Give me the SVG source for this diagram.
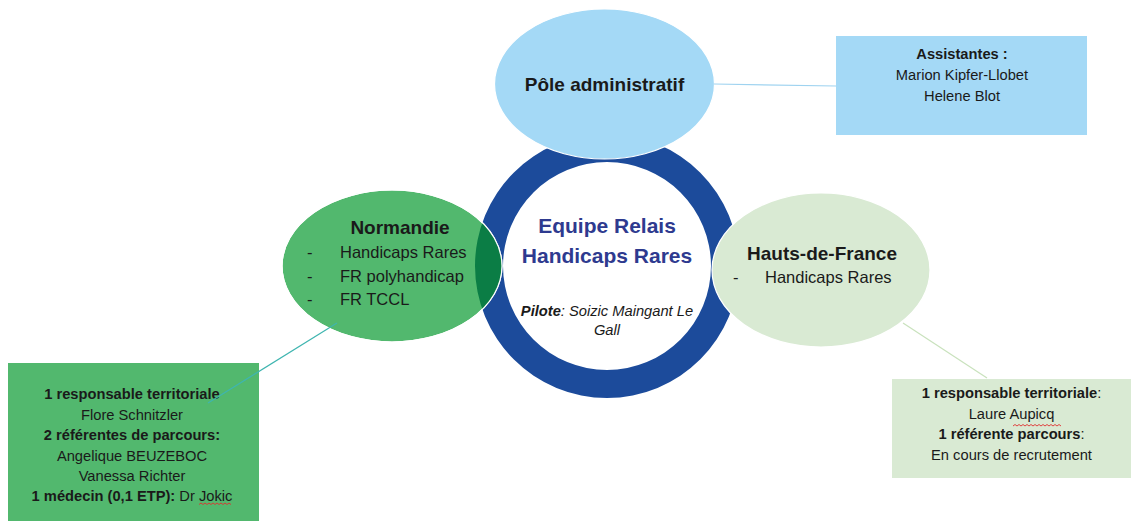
<svg xmlns="http://www.w3.org/2000/svg" width="1135" height="521" viewBox="0 0 1135 521">
<style>
text{font-family:"Liberation Sans",Arial,sans-serif;fill:#1a1a1a}
.b{font-weight:bold}
.t19{font-size:19px;font-weight:bold}
.l{font-size:16.5px}
.s{font-size:14.7px}
.m{text-anchor:middle}
.el{stroke:#ffffff;stroke-width:1.2}
.sq{fill:none;stroke:#e03030;stroke-width:0.9}
</style>
<defs>
<clipPath id="normClip"><ellipse cx="392" cy="266" rx="110" ry="76"/></clipPath>
<path id="ringPath" d="M 475 266 a 132 132 0 1 0 264 0 a 132 132 0 1 0 -264 0 Z M 503 266 a 104 104 0 1 0 208 0 a 104 104 0 1 0 -208 0 Z" fill-rule="evenodd"/>
</defs>
<rect width="1135" height="521" fill="#ffffff"/>

<g id="center">
<use href="#ringPath" fill="#1c4b9b"/>
<text class="m b" x="607" y="233" font-size="21" style="fill:#2e3a8f">Equipe Relais</text>
<text class="m b" x="607" y="263" font-size="21" style="fill:#2e3a8f">Handicaps Rares</text>
<text class="m s" x="607" y="316" font-style="italic"><tspan font-weight="bold">Pilote</tspan>: Soizic Maingant Le</text>
<text class="m s" x="607" y="335" font-style="italic">Gall</text>
</g>

<g id="pole">
<ellipse class="el" cx="604.5" cy="84" rx="110" ry="75" fill="#a4d9f6"/>
<text class="m t19" x="604.5" y="91">Pôle administratif</text>
</g>

<g id="normandie">
<ellipse class="el" cx="392" cy="266" rx="110" ry="76" fill="#52b86e"/>
<use href="#ringPath" fill="#0b7d45" clip-path="url(#normClip)"/>
<ellipse cx="392" cy="266" rx="110" ry="76" fill="none" stroke="#ffffff" stroke-width="1.2"/>
<text class="m t19" x="400" y="234">Normandie</text>
<text class="l" x="307" y="258">-</text>
<text class="l" x="340" y="258">Handicaps Rares</text>
<text class="l" x="307" y="282">-</text>
<text class="l" x="340" y="282">FR polyhandicap</text>
<text class="l" x="307" y="305">-</text>
<text class="l" x="340" y="305">FR TCCL</text>
</g>

<g id="hdf">
<ellipse class="el" cx="821" cy="270" rx="109" ry="77" fill="#d9ead3"/>
<text class="m t19" x="822" y="260">Hauts-de-France</text>
<text class="l" x="733" y="283">-</text>
<text class="l" x="765" y="283">Handicaps Rares</text>
</g>

<g id="assistantes">
<rect x="836" y="36" width="251" height="99" fill="#a4d9f6"/>
<text class="m s b" x="962" y="59">Assistantes :</text>
<text class="m s" x="962" y="80">Marion Kipfer-Llobet</text>
<text class="m s" x="962" y="101">Helene Blot</text>
</g>

<g id="normandie-team">
<rect x="8" y="363" width="251" height="158" fill="#52b86e"/>
<text class="m s b" x="132" y="399">1 responsable territoriale</text>
<text class="m s" x="132" y="419.5">Flore Schnitzler</text>
<text class="m s b" x="132" y="440">2 référentes de parcours:</text>
<text class="m s" x="132" y="460.5">Angelique BEUZEBOC</text>
<text class="m s" x="132" y="481">Vanessa Richter</text>
<text class="m s" x="132" y="501"><tspan font-weight="bold">1 médecin (0,1 ETP):</tspan> Dr Jokic</text>
<path class="sq" d="M199 504.5 l2 -1.5 l2 1.5 l2 -1.5 l2 1.5 l2 -1.5 l2 1.5 l2 -1.5 l2 1.5 l2 -1.5 l2 1.5 l2 -1.5 l2 1.5 l2 -1.5 l2 1.5 l2 -1.5 l2 1.5"/>
</g>

<g id="hdf-team">
<rect x="892" y="379" width="239" height="99" fill="#d9ead3"/>
<text class="m s" x="1011.5" y="398"><tspan font-weight="bold">1 responsable territoriale</tspan>:</text>
<text class="m s" x="1011.5" y="418.5">Laure Aupicq</text>
<text class="m s" x="1011.5" y="439"><tspan font-weight="bold">1 référente parcours</tspan>:</text>
<text class="m s" x="1011.5" y="460">En cours de recrutement</text>
<path class="sq" d="M1013 426 l2 -1.5 l2 1.5 l2 -1.5 l2 1.5 l2 -1.5 l2 1.5 l2 -1.5 l2 1.5 l2 -1.5 l2 1.5 l2 -1.5 l2 1.5 l2 -1.5 l2 1.5 l2 -1.5 l2 1.5 l2 -1.5 l2 1.5 l2 -1.5 l2 1.5 l2 -1.5 l2 1.5 l2 -1.5 l2 1.5"/>
</g>

<g id="connectors" fill="none" stroke-width="1.2">
<line x1="714" y1="84" x2="836" y2="86" stroke="#9fd3f0"/>
<line x1="337" y1="323" x2="208" y2="403" stroke="#3fb5b0"/>
<line x1="903" y1="323" x2="987" y2="378" stroke="#c9e2bd"/>
</g>
</svg>
